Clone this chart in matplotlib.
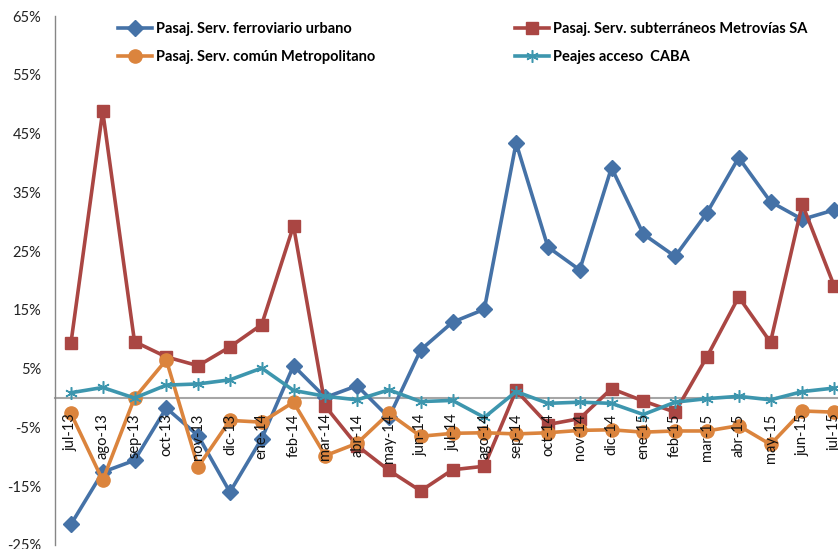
import matplotlib
matplotlib.use("Agg")
import matplotlib.pyplot as plt

plt.rcParams['font.family'] = ['Lato', 'DejaVu Sans']

months = ["jul-13", "ago-13", "sep-13", "oct-13", "nov-13", "dic-13", "ene-14", "feb-14",
          "mar-14", "abr-14", "may-14", "jun-14", "jul-14", "ago-14", "sep-14", "oct-14",
          "nov-14", "dic-14", "ene-15", "feb-15", "mar-15", "abr-15", "may-15", "jun-15", "jul-15"]

ferroviario = [-21.5, -12.6, -10.6, -1.7, -6.4, -16.0, -6.9, 5.5, 0.1, 2.1, -3.3, 8.2, 12.9,
               15.1, 43.4, 25.7, 21.8, 39.2, 27.9, 24.1, 31.5, 40.9, 33.4, 30.4, 32.0]
subterraneos = [9.3, 48.8, 9.6, 7.0, 5.5, 8.7, 12.5, 29.3, -1.4, -8.1, -12.3, -15.8, -12.2,
                -11.6, 1.3, -4.5, -3.5, 1.6, -0.5, -2.4, 7.0, 17.2, 9.5, 33.0, 19.1]
comun = [-2.6, -14.0, 0.0, 6.5, -11.7, -3.8, -4.1, -0.7, -9.8, -7.7, -2.6, -6.5, -6.0,
         -5.9, -6.1, -5.9, -5.5, -5.4, -5.8, -5.6, -5.6, -4.7, -7.9, -2.2, -2.4]
peajes = [0.9, 1.8, 0.0, 2.2, 2.4, 3.1, 5.1, 1.3, 0.3, -0.3, 1.4, -0.6, -0.4,
          -3.3, 1.1, -0.9, -0.7, -0.9, -2.8, -0.7, -0.1, 0.3, -0.3, 1.1, 1.7]

labels = ["Pasaj. Serv. ferroviario urbano", "Pasaj. Serv. subterráneos Metrovías SA",
          "Pasaj. Serv. común Metropolitano", "Peajes acceso  CABA"]
yticks = [-25, -15, -5, 5, 15, 25, 35, 45, 55, 65]

c_blue = "#4572A7"
c_red = "#AA4643"
c_orange = "#DB843D"
c_teal = "#3D96AE"

W, H = 838, 549
fig = plt.figure(figsize=(W / 100, H / 100), dpi=100)
ax = fig.add_axes([55 / W, 4 / H, 795 / W, 529 / H])

for s in ['top', 'right']:
    ax.spines[s].set_visible(False)
ax.spines['bottom'].set_position(('data', 0))
ax.spines['left'].set_color('#868686')
ax.spines['left'].set_linewidth(1.0)
ax.spines['bottom'].set_color('#A6A6A6')
ax.spines['bottom'].set_linewidth(1.5)
ax.spines['bottom'].set_zorder(2)

x = list(range(len(months)))
lw = 2.6
l1, = ax.plot(x, ferroviario, color=c_blue, lw=lw, marker='D', ms=8, zorder=3, clip_on=False)
l2, = ax.plot(x, subterraneos, color=c_red, lw=lw, marker='s', ms=8.5, zorder=4, clip_on=False)
l3, = ax.plot(x, comun, color=c_orange, lw=lw, marker='o', ms=9.5, zorder=5, clip_on=False)
l4, = ax.plot(x, peajes, color=c_teal, lw=lw, marker=(6, 2, 0), ms=9, mew=1.1,
              mec=c_teal, zorder=6, clip_on=False)

ax.set_xlim(-0.5, len(months) - 0.5)
ax.set_ylim(-25, 65)
ax.set_yticks(yticks)
ax.set_yticklabels([f"{v}%" for v in yticks])
ax.tick_params(axis='y', length=0, pad=10, labelsize=10.5, labelcolor='#222222')
ax.tick_params(axis='x', length=0, pad=11, labelsize=10.5, labelcolor='#111111')
ax.set_xticks(x)
ax.set_xticklabels(months, rotation=90, ha='center', va='top')
ax.xaxis.set_zorder(10)

leg_kw = dict(frameon=False, prop={'weight': 'bold', 'size': 10.5}, handlelength=2.3,
              handletextpad=0.3, labelspacing=0.95, borderaxespad=0, borderpad=0)
leg1 = fig.legend([l1, l3], [labels[0], labels[2]], loc='upper left',
                  bbox_to_anchor=(118 / W, 1 - 22 / H), **leg_kw)
leg2 = fig.legend([l2, l4], [labels[1], labels[3]], loc='upper left',
                  bbox_to_anchor=(515 / W, 1 - 22 / H), **leg_kw)

fig.savefig("out.png", dpi=100)
